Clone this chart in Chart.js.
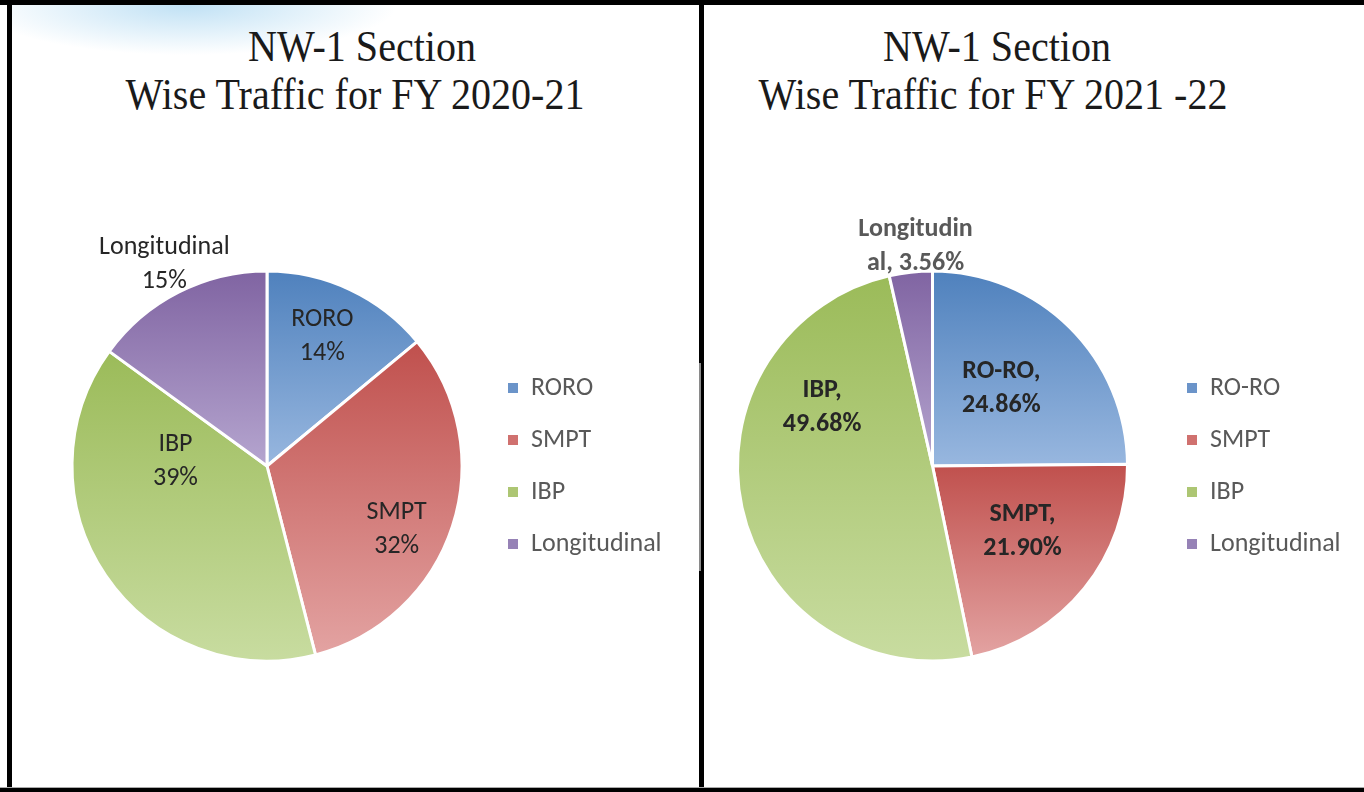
<!DOCTYPE html>
<html>
<head>
<meta charset="utf-8">
<title>NW-1 Section Wise Traffic</title>
<script src="https://cdn.jsdelivr.net/npm/chart.js@4/dist/chart.umd.min.js"></script>
<style>
  body { margin: 0; width: 1364px; height: 792px; background: #fff; position: relative; overflow: hidden; }
  .bar { position: absolute; background: #000; }
  .swoosh { position: absolute; left: 12px; top: 5px; width: 420px; height: 90px;
    background: radial-gradient(ellipse 210px 50px at 175px 0px, rgba(165, 212, 240, 0.7), rgba(255, 255, 255, 0) 100%); }
  .title { position: absolute; width: 640px; text-align: center; white-space: pre;
    font: 45px "Liberation Serif", "Times New Roman", serif; line-height: 48px; color: #1a1a1a;
    transform: scaleX(0.89); transform-origin: 50% 50%; }
  .box { position: absolute; top: 150px; height: 632px; }
</style>
</head>
<body>
<div class="swoosh"></div>

<div class="title" style="left:42px; top:22px;">NW-1 Section</div>
<div class="title" style="left:35px; top:70px;">Wise Traffic for FY 2020-21</div>
<div class="title" style="left:677px; top:22px;">NW-1 Section</div>
<div class="title" style="left:673px; top:70px;">Wise Traffic for FY 2021 -22</div>

<div class="box" style="left:10px; width:688px;"><canvas id="pie2021"></canvas></div>
<div class="box" style="left:704px; width:660px;"><canvas id="pie2122"></canvas></div>

<!-- frame lines -->
<div class="bar" style="left:0; top:0; width:1364px; height:5px;"></div>
<div class="bar" style="left:7px; top:0; width:5px; height:792px;"></div>
<div class="bar" style="left:699px; top:0; width:5px; height:792px;"></div>
<div class="bar" style="left:699px; top:363px; width:2px; height:208px; background:#8a8a8a;"></div>
<div class="bar" style="left:0; top:787px; width:1364px; height:1px; background:#aaa;"></div>
<div class="bar" style="left:0; top:788px; width:1364px; height:4px;"></div>

<script>
// data
const categories2021 = ["RORO", "SMPT", "IBP", "Longitudinal"];
const values2021 = [14, 32, 39, 15];

const categories2122 = ["RO-RO", "SMPT", "IBP", "Longitudinal"];
const values2122 = [24.86, 21.90, 49.68, 3.56];

// colours
const darkColors = ["#4F81BD", "#C0504D", "#9BBB59", "#8064A2"];
const lightColors = ["#98B7DF", "#E3A3A2", "#C8DCA0", "#B5A5CF"];
const legendColors = ["#6B94C9", "#D0716F", "#ADC673", "#9682B6"];

const FONT = "Carlito, Lato, sans-serif";
const RADIUS = 195;

// vertical gradient over each slice's own bounding box
function sliceFill(ctx) {
    const chart = ctx.chart;
    const area = chart.chartArea;
    const i = ctx.dataIndex;
    if (!area) return darkColors[i];
    const data = ctx.dataset.data;
    const total = data.reduce((a, b) => a + b, 0);
    let before = 0;
    for (let k = 0; k < i; k++) before += data[k];
    const a0 = -Math.PI / 2 + 2 * Math.PI * before / total;
    const a1 = a0 + 2 * Math.PI * data[i] / total;
    const cy = (area.top + area.bottom) / 2;
    const ys = [cy, cy + RADIUS * Math.sin(a0), cy + RADIUS * Math.sin(a1)];
    [-Math.PI / 2, Math.PI / 2, 3 * Math.PI / 2].forEach(function (a) {
        if (a > a0 && a < a1) ys.push(cy + RADIUS * Math.sin(a));
    });
    const g = chart.ctx.createLinearGradient(0, Math.min(...ys), 0, Math.max(...ys));
    g.addColorStop(0, darkColors[i]);
    g.addColorStop(1, lightColors[i]);
    return g;
}

// fixed legend width so the pie lands where it should
const legendWidth = {
    id: "legendWidth",
    beforeLayout(chart, args, opts) {
        const lg = chart.legend;
        if (lg && !lg._fixed) {
            const fit = lg.fit;
            lg.fit = function () {
                fit.call(this);
                this.width = opts.width;
            };
            lg._fixed = true;
        }
    }
};

// text on the slices
const sliceLabels = {
    id: "sliceLabels",
    afterDatasetsDraw(chart, args, opts) {
        const c = chart.ctx;
        const arcs = chart.getDatasetMeta(0).data;
        c.save();
        c.font = opts.font;
        c.textAlign = "center";
        c.textBaseline = "middle";
        arcs.forEach(function (arc, i) {
            const p = arc.getProps(["x", "y", "startAngle", "endAngle", "outerRadius"], true);
            const f = opts.place[i][0];
            const a = (p.startAngle + p.endAngle) / 2 + opts.place[i][1] * Math.PI / 180;
            const x = p.x + Math.cos(a) * p.outerRadius * f;
            const y = p.y + Math.sin(a) * p.outerRadius * f;
            const lines = opts.lines[i];
            c.fillStyle = f > 1 ? opts.outsideColor : opts.color;
            lines.forEach(function (t, k) {
                c.fillText(t, x, y + (k - (lines.length - 1) / 2) * opts.lineHeight);
            });
        });
        c.restore();
    }
};

function legendLabels(chart) {
    return chart.data.labels.map(function (t, i) {
        return { text: t, fillStyle: legendColors[i], strokeStyle: legendColors[i],
                 lineWidth: 0, hidden: false, index: i, fontColor: "#595959" };
    });
}

function makePie(id, categories, values, labelLines, place, labelFont, outsideColor, padLeft, legendW) {
    return new Chart(document.getElementById(id), {
        type: "pie",
        data: {
            labels: categories,
            datasets: [{
                data: values,
                backgroundColor: sliceFill,
                borderColor: "#ffffff",
                borderWidth: 3,
                radius: RADIUS
            }]
        },
        options: {
            responsive: true,
            maintainAspectRatio: false,
            animation: false,
            layout: { padding: { left: padLeft, right: 0, top: 0, bottom: 0 } },
            plugins: {
                title: { display: false },
                tooltip: { enabled: false },
                legend: {
                    position: "right",
                    labels: {
                        boxWidth: 10,
                        boxHeight: 10,
                        padding: 26,
                        color: "#595959",
                        font: { family: FONT, size: 26 },
                        generateLabels: legendLabels
                    }
                },
                legendWidth: { width: legendW },
                sliceLabels: {
                    lines: labelLines,
                    place: place,
                    font: labelFont,
                    color: "#262626",
                    outsideColor: outsideColor,
                    lineHeight: 34
                }
            }
        },
        plugins: [legendWidth, sliceLabels]
    });
}

// FY 2020-21 : name over rounded percent
const total2021 = values2021.reduce((a, b) => a + b, 0);
const lines2021 = categories2021.map(function (c, i) {
    return [c, Math.round(values2021[i] / total2021 * 100) + "%"];
});

// FY 2021-22 : "name," over percent, long names wrapped like the original
const lines2122 = categories2122.map(function (c, i) {
    const pct = values2122[i].toFixed(2) + "%";
    if (c.length > 10) return [c.slice(0, 10), c.slice(10) + ", " + pct];
    return [c + ",", pct];
});

makePie("pie2021", categories2021, values2021, lines2021,
    [[0.72, -2], [0.74, 8], [0.47, 37], [1.16, 0]],
    "26px " + FONT, "#262626", 42, 216);

makePie("pie2122", categories2122, values2122, lines2122,
    [[0.53, -3], [0.57, -3], [0.64, 40], [1.13, 2]],
    "bold 26px " + FONT, "#595959", 0, 203);
</script>
</body>
</html>
